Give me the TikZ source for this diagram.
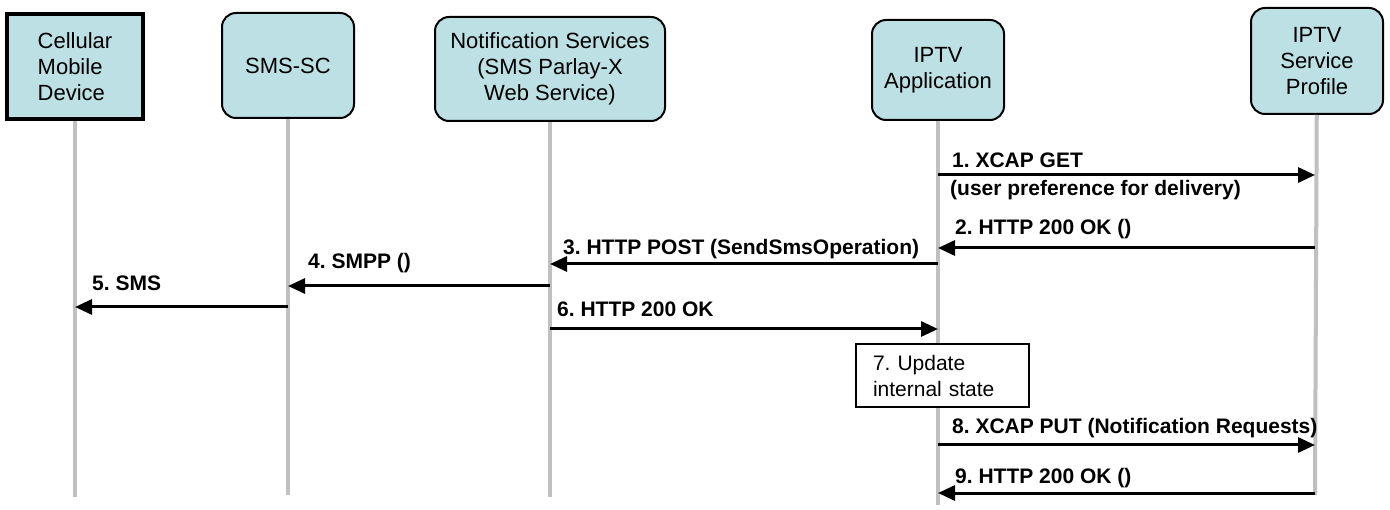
\documentclass[tikz,border=0pt]{standalone}
\usepackage{fontspec}
\setmainfont{Liberation Sans}
\usetikzlibrary{arrows.meta}
\definecolor{boxfill}{RGB}{188,224,228}
\definecolor{lifegray}{RGB}{192,192,192}
\frenchspacing

\begin{document}
\begin{tikzpicture}[x=1pt,y=-1pt]
\tikzstyle{box}=[draw,line width=2pt,rounded corners=14pt,fill=boxfill,align=center,font=\fontsize{22}{26}\selectfont];
\tikzstyle{life}=[draw=lifegray,line width=4pt];
\tikzstyle{msg}=[-{Triangle[length=17pt,width=15pt]},line width=3pt];
\tikzstyle{lbl}=[anchor=base west,inner sep=0pt,font=\bfseries\fontsize{21}{25}\selectfont];
\tikzstyle{note}=[draw,line width=1.5pt,fill=white,align=left,text width=139pt,inner xsep=17pt,minimum height=63pt,font=\fontsize{21}{26}\selectfont];
\useasboundingbox (0,0) rectangle (1390,510);

\node [box,sharp corners,line width=3.5pt,align=left,minimum width=136pt,minimum height=105pt] (v1) at (75,66.5) {Cellular\\Mobile\\Device};
\node [box,minimum width=132pt,minimum height=105pt] (v2) at (288,65.5) {SMS-SC};
\node [box,minimum width=230pt,minimum height=104pt] (v3) at (550,69) {Notification Services\\(SMS Parlay-X\\Web Service)};
\node [box,minimum width=132pt,minimum height=100pt] (v4) at (938,70) {IPTV\\Application};
\node [box,minimum width=132pt,minimum height=106pt] (v5) at (1317,61) {IPTV\\Service\\Profile};

\coordinate (e1) at (75,497);
\coordinate (e2) at (288,495);
\coordinate (e3) at (550,497);
\coordinate (e4) at (938,505);
\coordinate (e5) at (1315,495);
\draw [life] (v1) edge (e1);
\draw [life] (v2) edge (e2);
\draw [life] (v3) edge (e3);
\draw [life] (v4) edge (e4);
\draw [life] (v5) edge (e5);

\coordinate (m1a) at (938,175);
\coordinate (m1b) at (1315,175);
\coordinate (m2a) at (1315,248);
\coordinate (m2b) at (938,248);
\coordinate (m3a) at (938,264);
\coordinate (m3b) at (550,264);
\coordinate (m4a) at (550,286);
\coordinate (m4b) at (288,286);
\coordinate (m5a) at (288,307);
\coordinate (m5b) at (75,307);
\coordinate (m6a) at (550,329);
\coordinate (m6b) at (938,329);
\coordinate (m8a) at (938,445);
\coordinate (m8b) at (1315,445);
\coordinate (m9a) at (1315,493);
\coordinate (m9b) at (938,493);
\draw [msg] (m1a) -- (m1b);
\draw [msg] (m2a) -- (m2b);
\draw [msg] (m3a) -- (m3b);
\draw [msg] (m4a) -- (m4b);
\draw [msg] (m5a) -- (m5b);
\draw [msg] (m6a) -- (m6b);
\draw [msg] (m8a) -- (m8b);
\draw [msg] (m9a) -- (m9b);

\node [lbl] (l1) at (952,168) {1. XCAP GET};
\node [lbl] (l1b) at (950,196) {(user preference for delivery)};
\node [lbl] (l2) at (955,235) {2. HTTP 200 OK ()};
\node [lbl] (l3) at (563,255) {3. HTTP POST (SendSmsOperation)};
\node [lbl] (l4) at (308,269) {4. SMPP ()};
\node [lbl] (l5) at (92,291) {5. SMS};
\node [lbl] (l6) at (557,317) {6. HTTP 200 OK};
\node [note] (v7) at (942.5,375.5) {7. Update\\internal state};
\node [lbl] (l8) at (952,434) {8. XCAP PUT (Notification Requests)};
\node [lbl] (l9) at (955,483) {9. HTTP 200 OK ()};
\end{tikzpicture}
\end{document}
